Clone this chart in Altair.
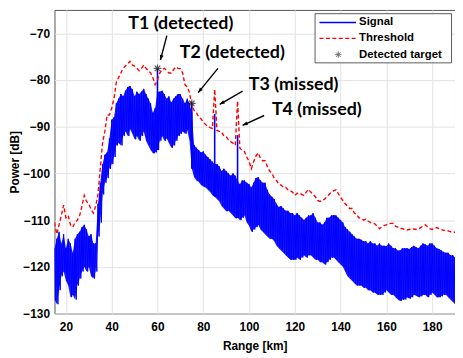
import math
import altair as alt
import pandas as pd

KM0, KM1 = 15, 190
DB0, DB1 = -130, -65
W, H = 405, 307

km = list(range(15, 191))

# upper edge of the noisy signal at each km
sig_hi = [
    -116, -114, -112.5, -115, -113, -116, -114, -115, -117, -114,
    -113, -112.5, -111.5, -111, -112, -113.5, -113, -115, -115, -106.5,
    -102, -98, -96, -95.5, -92.5, -88.5, -88, -85, -84, -83,
    -83.5, -82.3, -81.5, -81.3, -82, -83.5, -82.5, -83, -82.5, -81.9,
    -83, -84, -85, -87, -86, -82.5, -82.5, -82.3, -83, -84,
    -83.5, -84.8, -84, -83.5, -83, -83, -84, -85, -84, -85,
    -87, -93.9, -94.5, -95, -95.5, -95.3, -96, -96.5, -97, -97.5,
    -98, -98, -98.5, -99.5, -99, -99.5, -100, -100.5, -100, -100.5,
    -101.5, -102.3, -101.5, -101.5, -102, -102.3, -103, -102, -101, -100.8,
    -101.5, -102, -102, -103.5, -104.5, -105, -105.5, -106.5, -107.2, -107,
    -107.5, -108, -108, -108.5, -108.5, -109, -108.5, -109, -109.5, -110,
    -109.5, -109, -109, -108.5, -109.5, -110.5, -110.5, -111, -110.5, -109.5,
    -109.5, -109, -108.9, -109, -109.5, -110, -110.5, -111.5, -112, -112.5,
    -113, -113.5, -114, -114, -114.2, -114.5, -114.5, -115, -114.5, -115,
    -115, -115.5, -115, -115.5, -115.5, -115.6, -115, -115.5, -116, -116,
    -116.5, -116.5, -116, -116, -116, -116.2, -115.8, -115.5, -115.8, -116,
    -115.5, -115, -115.2, -115.5, -115, -115, -115.5, -116, -116.2, -116.5,
    -116.8, -117, -117, -117.5, -117.5, -118,
]

# lower edge of the noisy signal at each km
sig_lo = [
    -127, -128, -125, -122, -121, -123, -124, -126.5, -126, -127,
    -124, -122.5, -121, -120, -121, -120, -122, -122.5, -121, -113.5,
    -110.5, -104.5, -102, -101, -99, -98, -96.5, -94, -93.5, -94,
    -92, -91, -92, -90.5, -91.5, -92.7, -92, -93, -92, -91,
    -93, -94, -95, -95.7, -95.5, -95, -93, -92, -93, -92.5,
    -93.5, -94.5, -94, -93, -92, -91.5, -91, -91.5, -90.7, -93,
    -99, -100.8, -101.5, -101.8, -102.5, -102.8, -103, -103.5, -104, -104.7,
    -105, -105.5, -106, -107, -107.5, -108.1, -108, -108.5, -109, -109.6,
    -109.5, -110, -109.5, -109, -110.5, -111.2, -112.5, -112, -111.5, -111,
    -112, -112.5, -113, -113.5, -114, -114, -114.5, -115.5, -116, -116.5,
    -117, -117.5, -118, -118.5, -118.5, -118.5, -118, -118.5, -118, -117.5,
    -118, -117.5, -117.5, -118, -118.5, -118.5, -119, -119, -119.5, -119,
    -118.5, -118, -118, -118.5, -119, -119.5, -120, -121, -122, -122.5,
    -123, -123.5, -124, -124, -124, -124.5, -124.5, -125, -125, -125.5,
    -125.5, -126, -126, -126, -125.5, -125, -125.5, -126, -126, -126.5,
    -127, -127.3, -127, -127, -126.5, -126.8, -126.5, -126, -126.2, -126.5,
    -126.3, -126, -126, -126.5, -126, -125.5, -126, -126.5, -126.5, -126.3,
    -126, -126, -126.5, -127, -127.5, -128,
]

thr_db = [
    -110.5, -113, -111, -109, -106.8, -109.5, -109, -111, -111.5, -110.5,
    -110, -109, -107, -104.7, -106, -106.5, -107.7, -108.5, -107, -104.5,
    -99, -93.5, -91, -87.5, -87.5, -86, -84, -80.5, -79.5, -78.5,
    -77.5, -77, -76.5, -76, -76.8, -77, -77.5, -78, -77.5, -76.8,
    -77.5, -78, -78.5, -79.5, -81, -80, -78.5, -77.8, -77.5, -78,
    -78.5, -78.5, -77.8, -77.2, -77.5, -77.6, -78.5, -81, -81.5, -82.7,
    -85.5, -86.5, -87, -87.9, -88.3, -89, -89.5, -90, -90.2, -90.4,
    -82, -90.8, -91, -91.1, -92, -92.1, -92.8, -93.2, -93.5, -94,
    -84.5, -94.6, -95, -95.3, -96.5, -97.4, -99, -97.5, -96.3, -95.6,
    -96.8, -97.3, -97.3, -98.5, -99.5, -100, -101, -101.5, -102.3, -102.5,
    -103, -103, -103.5, -103.7, -104, -104.7, -104.3, -104.2, -104.5, -104.7,
    -104, -103.4, -104, -104.5, -105, -105.8, -106, -105.8, -105.5, -105,
    -104.5, -104, -103.7, -103.5, -104.3, -105.1, -105.8, -106.5, -107, -107.5,
    -107.5, -108.5, -108.8, -109.5, -109.6, -110, -109.8, -110.2, -110.5, -110.7,
    -110.8, -111.3, -111.8, -111.5, -111.2, -111, -110.8, -110.7, -110.7, -111.3,
    -111.5, -111.8, -111.8, -112, -112.1, -112, -111.8, -111.9, -112, -111.9,
    -111.6, -111.3, -111, -111.4, -111.8, -112, -111.8, -111.6, -111.8, -112,
    -112.2, -112.1, -112.3, -112.5, -112.5, -112.6,
]

# target echoes in the signal
spike_km = [60, 75, 85, 95]
spike_db = [-77.5, -85.0, -87.3, -91.8]

det_km = [60, 75]
det_db = [-77.5, -85.0]

note_text = ["T1 (detected)", "T2 (detected)", "T3 (missed)", "T4 (missed)"]
note_km = [70.2, 92.7, 119.5, 129.6]
note_db = [-68.0, -74.3, -81.0, -86.4]
arrow_km0 = [64.1, 86.4, 97.2, 106.6]
arrow_db0 = [-70.5, -77.5, -82.4, -87.6]
arrow_km1 = [61.3, 77.8, 87.2, 97.2]
arrow_db1 = [-75.75, -82.7, -85.2, -89.7]

legend_labels = ["Signal", "Threshold", "Detected target"]

BLUE = "#0000ff"
RED = "#ff0000"
STAR = "M-1,0L1,0M0,-1L0,1M-0.72,-0.72L0.72,0.72M-0.72,0.72L0.72,-0.72"
HEAD = "M0,0L-0.6,1.6L0.6,1.6Z"

rows = []
for i, k in enumerate(km):
    rows.append({"km": k, "db": sig_hi[i]})
    if k < KM1:
        rows.append({"km": k + 0.5, "db": sig_lo[i]})
sig_df = pd.DataFrame(rows)
band_df = pd.DataFrame({"km": km, "hi": sig_hi, "lo": sig_lo})
spike_df = pd.DataFrame({"km": spike_km, "db": spike_db,
                         "base": [sig_lo[km.index(k)] for k in spike_km]})
thr_df = pd.DataFrame({"km": km, "db": thr_db})
det_df = pd.DataFrame({"km": det_km, "db": det_db})
note_df = pd.DataFrame({"km": note_km, "db": note_db, "t": note_text})

px_km = W / (KM1 - KM0)
px_db = H / (DB1 - DB0)
angles = []
for a, b, c, d in zip(arrow_km0, arrow_db0, arrow_km1, arrow_db1):
    dx = (c - a) * px_km
    dy = -(d - b) * px_db
    angles.append(math.degrees(math.atan2(dx, -dy)) % 360)
arr_df = pd.DataFrame({"km": arrow_km0, "db": arrow_db0,
                       "km1": arrow_km1, "db1": arrow_db1, "ang": angles})
one = pd.DataFrame({"a": [0]})

xscale = alt.Scale(domain=[KM0, KM1], nice=False, zero=False)
yscale = alt.Scale(domain=[DB0, DB1], nice=False, zero=False)
xaxis = alt.Axis(values=list(range(20, 181, 20)), title="Range [km]",
                 labelPadding=8, titleX=W / 2, titleY=32,
                 titleBaseline="middle", titleAlign="center")
yaxis = alt.Axis(values=list(range(-130, -69, 10)), title="Power [dB]",
                 labelPadding=5, titleX=-40, titleY=H / 2, titleAngle=270,
                 titleBaseline="middle", titleAlign="center")


def X(f="km"):
    return alt.X(f"{f}:Q", scale=xscale, axis=xaxis)


def Y(f="db"):
    return alt.Y(f"{f}:Q", scale=yscale, axis=yaxis)


band = alt.Chart(band_df).mark_area(color=BLUE, opacity=0.9, clip=True).encode(x=X(), y=Y("hi"), y2="lo:Q")
sig = alt.Chart(sig_df).mark_line(color=BLUE, strokeWidth=1, clip=True).encode(x=X(), y=Y())
spikes = alt.Chart(spike_df).mark_rule(color=BLUE, strokeWidth=1.6).encode(x=X(), y=Y(), y2="base:Q")
thr = alt.Chart(thr_df).mark_line(color=RED, strokeWidth=1.4, strokeDash=[4, 2.5], clip=True).encode(x=X(), y=Y())
stars = alt.Chart(det_df).mark_point(shape=STAR, filled=False, color="#111", strokeWidth=1.2, size=60).encode(x=X(), y=Y())
arrows = alt.Chart(arr_df).mark_rule(color="black", strokeWidth=1.4).encode(
    x=X(), y=Y(), x2="km1:Q", y2="db1:Q")
heads = alt.Chart(arr_df).mark_point(shape=HEAD, filled=True, color="black", opacity=1, size=40).encode(
    x=X("km1"), y=Y("db1"), angle=alt.Angle("ang:Q", scale=None))
notes = alt.Chart(note_df).mark_text(font="Lato", fontWeight="bold", fontSize=18, color="black",
                                     align="center", baseline="middle").encode(x=X(), y=Y(), text="t:N")

lbox = alt.Chart(one).mark_rect(fill="white", stroke="#303030", strokeWidth=0.8).encode(
    x=alt.value(263.5), x2=alt.value(401.5), y=alt.value(3.8), y2=alt.value(53.5))
l1 = alt.Chart(one).mark_rule(color=BLUE, strokeWidth=1.3).encode(
    x=alt.value(268), x2=alt.value(305), y=alt.value(12.7))
l2 = alt.Chart(one).mark_rule(color=RED, strokeWidth=1.3, strokeDash=[4, 2.5]).encode(
    x=alt.value(268), x2=alt.value(305), y=alt.value(28.7))
l3 = alt.Chart(one).mark_point(shape=STAR, filled=False, color="#333", strokeWidth=1, size=40).encode(
    x=alt.value(287), y=alt.value(45.2))
ltexts = []
for lab, yy in zip(legend_labels, [12.7, 28.7, 45.2]):
    ltexts.append(alt.Chart(one).mark_text(font="Liberation Sans", fontWeight="bold", fontSize=11.5,
                                           color="black", align="left", baseline="middle").encode(
        x=alt.value(308), y=alt.value(yy), text=alt.value(lab)))

chart = alt.layer(band, sig, spikes, thr, stars, arrows, heads, notes, lbox, l1, l2, l3, *ltexts).properties(
    width=W, height=H,
    autosize=alt.AutoSizeParams(type="none"),
    padding={"left": 47, "top": 0, "right": 0, "bottom": 43},
).configure_axis(
    labelFont="Liberation Sans", labelFontWeight="bold", labelFontSize=12, labelColor="black",
    titleFont="Liberation Sans", titleFontWeight="bold", titleFontSize=12, titleColor="black",
    grid=True, gridColor="#e2e2e2", gridWidth=1, domain=False, ticks=False,
).configure_view(stroke="#555555", strokeWidth=1)

chart.save("out.html", embed_options={"renderer": "svg", "actions": False})
